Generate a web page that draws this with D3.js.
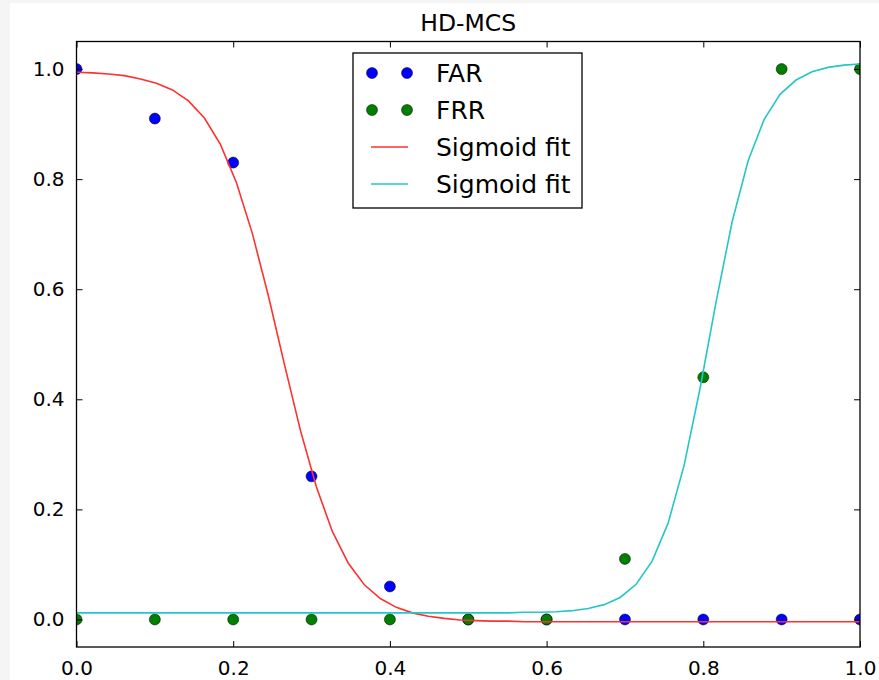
<!DOCTYPE html>
<html>
<head>
<meta charset="utf-8">
<script src="https://cdn.jsdelivr.net/npm/d3@7"></script>
<style>
  body { margin: 0; background: #f5f5f5; }
  text { font-family: "DejaVu Sans", sans-serif; }
</style>
</head>
<body>
<div id="chart"></div>
<script>
// measured points
const xPoints = [0, 0.1, 0.2, 0.3, 0.4, 0.5, 0.6, 0.7, 0.8, 0.9, 1.0];
const farValues = [1.0, 0.91, 0.83, 0.26, 0.06, 0, 0, 0, 0, 0, 0];
const frrValues = [0, 0, 0, 0, 0, 0, 0, 0.11, 0.44, 1.0, 1.0];

// fitted curves, 50 samples between 0 and 1
const fitX = d3.range(50).map(i => i / 49);
const farFit = [0.994, 0.993, 0.991, 0.988, 0.982, 0.974, 0.962, 0.942, 0.911, 0.863,
  0.794, 0.701, 0.588, 0.464, 0.344, 0.241, 0.160, 0.102, 0.063, 0.038,
  0.022, 0.012, 0.006, 0.002, -0.001, -0.002, -0.003, -0.003, -0.004, -0.004,
  -0.004, -0.004, -0.004, -0.004, -0.004, -0.004, -0.004, -0.004, -0.004, -0.004,
  -0.004, -0.004, -0.004, -0.004, -0.004, -0.004, -0.004, -0.004, -0.004, -0.004];
const frrFit = [0.012, 0.012, 0.012, 0.012, 0.012, 0.012, 0.012, 0.012, 0.012, 0.012,
  0.012, 0.012, 0.012, 0.012, 0.012, 0.012, 0.012, 0.012, 0.012, 0.012,
  0.012, 0.012, 0.012, 0.012, 0.012, 0.012, 0.012, 0.012, 0.013, 0.013,
  0.014, 0.016, 0.020, 0.027, 0.040, 0.064, 0.106, 0.175, 0.280, 0.420,
  0.577, 0.722, 0.833, 0.908, 0.954, 0.980, 0.995, 1.003, 1.007, 1.009];

const xTicks = [0, 0.2, 0.4, 0.6, 0.8, 1.0];
const yTicks = [0, 0.2, 0.4, 0.6, 0.8, 1.0];

const legendItems = [
  {label: "FAR", type: "dot", color: "#0000ff"},
  {label: "FRR", type: "dot", color: "#007f00"},
  {label: "Sigmoid fit", type: "line", color: "#ff3030"},
  {label: "Sigmoid fit", type: "line", color: "#24c6c6"}
];

const W = 879, H = 680;
const margin = {top: 41.5, right: 19, bottom: 33, left: 76.5};
const width = W - margin.left - margin.right,
  height = H - margin.top - margin.bottom;

const svg = d3.select("#chart").append("svg")
  .attr("width", W)
  .attr("height", H);

// white figure area
svg.append("rect")
  .attr("x", 10).attr("y", 3)
  .attr("width", W - 10).attr("height", H - 3)
  .attr("fill", "#fff");

const g = svg.append("g")
  .attr("transform", "translate(" + margin.left + "," + margin.top + ")");

const x = d3.scaleLinear().domain([0, 1]).range([0, width]);
const y = d3.scaleLinear().domain([-0.05, 1.05]).range([height, 0]);

g.append("clipPath").attr("id", "clip")
  .append("rect").attr("width", width).attr("height", height);

const plot = g.append("g").attr("clip-path", "url(#clip)");

// dots
plot.selectAll(".far").data(xPoints).enter().append("circle")
  .attr("class", "far")
  .attr("cx", d => x(d))
  .attr("cy", (d, i) => y(farValues[i]))
  .attr("r", 5.5)
  .attr("fill", "#0000ff")
  .attr("stroke", "#000")
  .attr("stroke-width", 0.5);

plot.selectAll(".frr").data(xPoints).enter().append("circle")
  .attr("class", "frr")
  .attr("cx", d => x(d))
  .attr("cy", (d, i) => y(frrValues[i]))
  .attr("r", 5.5)
  .attr("fill", "#007f00")
  .attr("stroke", "#000")
  .attr("stroke-width", 0.5);

// fitted lines
const line = d3.line()
  .x(d => x(d[0]))
  .y(d => y(d[1]));

plot.append("path")
  .datum(fitX.map((d, i) => [d, farFit[i]]))
  .attr("d", line)
  .attr("fill", "none")
  .attr("stroke", "#ff3030")
  .attr("stroke-width", 1.6);

plot.append("path")
  .datum(fitX.map((d, i) => [d, frrFit[i]]))
  .attr("d", line)
  .attr("fill", "none")
  .attr("stroke", "#24c6c6")
  .attr("stroke-width", 1.6);

// axes, ticks pointing inward on all four sides
const tickFmt = d3.format(".1f");

const axB = g.append("g")
  .attr("transform", "translate(0," + height + ")")
  .call(d3.axisBottom(x).tickValues(xTicks).tickFormat(tickFmt).tickSizeInner(-6).tickSizeOuter(0).tickPadding(14));
const axT = g.append("g")
  .call(d3.axisTop(x).tickValues(xTicks).tickFormat("").tickSizeInner(-6).tickSizeOuter(0));
const axL = g.append("g")
  .call(d3.axisLeft(y).tickValues(yTicks).tickFormat(tickFmt).tickSizeInner(-6).tickSizeOuter(0).tickPadding(12));
const axR = g.append("g")
  .attr("transform", "translate(" + width + ",0)")
  .call(d3.axisRight(y).tickValues(yTicks).tickFormat("").tickSizeInner(-6).tickSizeOuter(0));

[axB, axT, axL, axR].forEach(a => {
  a.select(".domain").remove();
  a.selectAll("line").attr("stroke", "#000").attr("stroke-width", 1);
  a.selectAll("text")
    .attr("fill", "#000")
    .style("font-size", "20px")
    .style("font-family", "DejaVu Sans, sans-serif");
});

// frame
g.append("rect")
  .attr("width", width).attr("height", height)
  .attr("fill", "none")
  .attr("stroke", "#000")
  .attr("stroke-width", 1.3);

// title
g.append("text")
  .attr("x", width / 2)
  .attr("y", -11)
  .attr("text-anchor", "middle")
  .style("font-size", "23.5px")
  .text("HD-MCS");

// legend
const legend = g.append("g")
  .attr("transform", "translate(" + (353 - margin.left) + "," + (53 - margin.top) + ")");

legend.append("rect")
  .attr("width", 229).attr("height", 155)
  .attr("fill", "#fff")
  .attr("stroke", "#000")
  .attr("stroke-width", 1.3);

const item = legend.selectAll(".item").data(legendItems).enter().append("g")
  .attr("class", "item")
  .attr("transform", (d, i) => "translate(0," + (20 + i * 37) + ")");

item.filter(d => d.type === "dot").selectAll("circle")
  .data(d => [d, d]).enter().append("circle")
  .attr("cx", (d, i) => i === 0 ? 19 : 54)
  .attr("cy", 0)
  .attr("r", 5.5)
  .attr("fill", d => d.color)
  .attr("stroke", "#000")
  .attr("stroke-width", 0.5);

item.filter(d => d.type === "line").append("line")
  .attr("x1", 18).attr("x2", 55)
  .attr("y1", 0).attr("y2", 0)
  .attr("stroke", d => d.color)
  .attr("stroke-width", 1.6);

item.append("text")
  .attr("x", 83)
  .attr("dy", "0.36em")
  .style("font-size", "25px")
  .text(d => d.label);
</script>
</body>
</html>
